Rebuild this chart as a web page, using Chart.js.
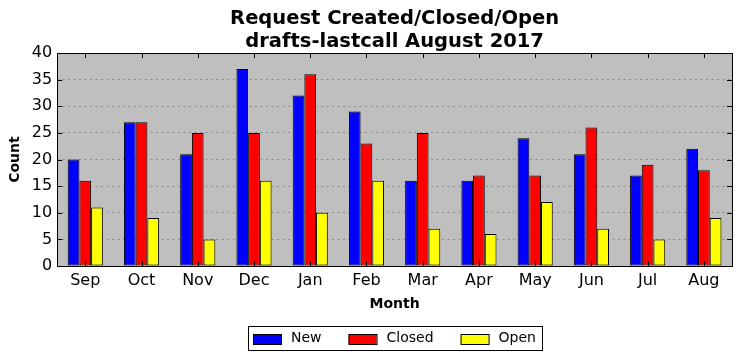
<!DOCTYPE html>
<html>
<head>
<meta charset="utf-8">
<script src="https://cdn.jsdelivr.net/npm/chart.js@4"></script>
<style>
	html, body { margin: 0; padding: 0; background: #ffffff; }
	#wrap { width: 741px; height: 361px; }
</style>
</head>
<body>
<div id="wrap"><canvas id="chart" width="741" height="361"></canvas></div>
<script>
const months = ['Sep', 'Oct', 'Nov', 'Dec', 'Jan', 'Feb', 'Mar', 'Apr', 'May', 'Jun', 'Jul', 'Aug']
const new_counts = [20, 27, 21, 37, 32, 29, 16, 16, 24, 21, 17, 22]
const closed_counts = [16, 27, 25, 25, 36, 23, 25, 17, 17, 26, 19, 18]
const open_counts = [11, 9, 5, 16, 10, 16, 7, 6, 12, 7, 5, 9]

const font_family = "'DejaVu Sans', sans-serif"

// grey plot background, black frame and inward ticks like matplotlib
const frame_plugin = {
	id: 'frame',
	beforeDraw(chart) {
		const a = chart.chartArea
		const ctx = chart.ctx
		ctx.save()
		ctx.fillStyle = '#bfbfbf'
		ctx.fillRect(a.left, a.top, a.right - a.left, a.bottom - a.top)
		ctx.restore()
	},
	afterDatasetsDraw(chart) {
		const a = chart.chartArea
		const ctx = chart.ctx
		const x = chart.scales.x
		const y = chart.scales.y
		ctx.save()
		ctx.strokeStyle = '#000000'
		ctx.lineWidth = 1
		ctx.beginPath()
		x.ticks.forEach((t, i) => {
			const px = Math.round(x.getPixelForTick(i)) + 0.5
			ctx.moveTo(px, a.bottom); ctx.lineTo(px, a.bottom - 5)
			ctx.moveTo(px, a.top); ctx.lineTo(px, a.top + 5)
		})
		y.ticks.forEach((t, i) => {
			const py = Math.round(y.getPixelForTick(i)) + 0.5
			ctx.moveTo(a.left, py); ctx.lineTo(a.left + 5, py)
			ctx.moveTo(a.right, py); ctx.lineTo(a.right - 5, py)
		})
		ctx.stroke()
		ctx.strokeRect(Math.round(a.left) + 0.5, Math.round(a.top) + 0.5,
			Math.round(a.right - a.left), Math.round(a.bottom - a.top))
		ctx.restore()
	}
}

// matplotlib style boxed legend under the axis label
const legend_plugin = {
	id: 'boxlegend',
	afterDraw(chart) {
		const ctx = chart.ctx
		const a = chart.chartArea
		const sw = 28, sh = 10, text_gap = 10, item_gap = 27
		ctx.save()
		ctx.font = '14px ' + font_family
		const items = chart.data.datasets.map(ds => ({
			label: ds.label, color: ds.backgroundColor, w: ctx.measureText(ds.label).width
		}))
		let total = items.reduce((s, it) => s + sw + text_gap + it.w, 0) + item_gap * (items.length - 1)
		const box_w = total + 11
		const box_left = Math.round((a.left + a.right) / 2 - box_w / 2)
		const box_top = chart.height - 35
		const box_h = 24
		ctx.fillStyle = '#ffffff'
		ctx.fillRect(box_left, box_top, box_w, box_h)
		ctx.strokeStyle = '#000000'
		ctx.lineWidth = 1
		ctx.strokeRect(box_left + 0.5, box_top + 0.5, Math.round(box_w), box_h)
		const mid = box_top + box_h / 2 + 0.5
		let cx = box_left + 5
		ctx.textBaseline = 'middle'
		items.forEach(it => {
			ctx.fillStyle = it.color
			ctx.fillRect(cx, Math.round(mid - sh / 2), sw, sh)
			ctx.strokeRect(cx + 0.5, Math.round(mid - sh / 2) + 0.5, sw, sh)
			ctx.fillStyle = '#000000'
			ctx.fillText(it.label, cx + sw + text_gap, mid)
			cx += sw + text_gap + it.w + item_gap
		})
		ctx.restore()
	}
}

function bar_set(label, data, color) {
	return {
		label: label,
		data: data,
		backgroundColor: color,
		borderColor: '#000000',
		borderWidth: 1,
		borderSkipped: false,
		categoryPercentage: 0.625,
		barPercentage: 1.0
	}
}

const chart_options = {
	type: 'bar',
	data: {
		labels: months,
		datasets: [
			bar_set('New', new_counts, '#0000ff'),
			bar_set('Closed', closed_counts, '#ff0000'),
			bar_set('Open', open_counts, '#ffff00')
		]
	},
	options: {
		responsive: false,
		animation: false,
		layout: { padding: { left: 7, right: 9, top: 0, bottom: 48 } },
		plugins: {
			title: {
				display: true,
				fullSize: false,
				text: ['Request Created/Closed/Open', 'drafts-lastcall August 2017'],
				color: '#000000',
				font: { family: font_family, size: 19.5, weight: 'bold', lineHeight: 1.18 },
				padding: { top: 7, bottom: 0 }
			},
			legend: { display: false },
			tooltip: { enabled: false }
		},
		scales: {
			x: {
				grid: { display: false, drawTicks: false },
				border: { display: false },
				ticks: { color: '#000000', font: { family: font_family, size: 16 }, padding: 5 },
				title: {
					display: true,
					text: 'Month',
					color: '#000000',
					font: { family: font_family, size: 14, weight: 'bold' },
					padding: { top: 1, bottom: 0 }
				}
			},
			y: {
				min: 0,
				max: 40,
				grid: {
					color: ctx => (ctx.tick.value === 0 || ctx.tick.value === 40) ? 'rgba(0,0,0,0)' : '#8a8a8a',
					drawTicks: false,
					lineWidth: 1
				},
				border: { display: false, dash: [2, 3.5] },
				ticks: { stepSize: 5, color: '#000000', font: { family: font_family, size: 16 }, padding: 5 },
				title: {
					display: true,
					text: 'Count',
					color: '#000000',
					font: { family: font_family, size: 14, weight: 'bold' },
					padding: { top: 0, bottom: 3 }
				}
			}
		}
	},
	plugins: [frame_plugin, legend_plugin]
}

const chart = new Chart(document.getElementById('chart'), chart_options)
</script>
</body>
</html>
